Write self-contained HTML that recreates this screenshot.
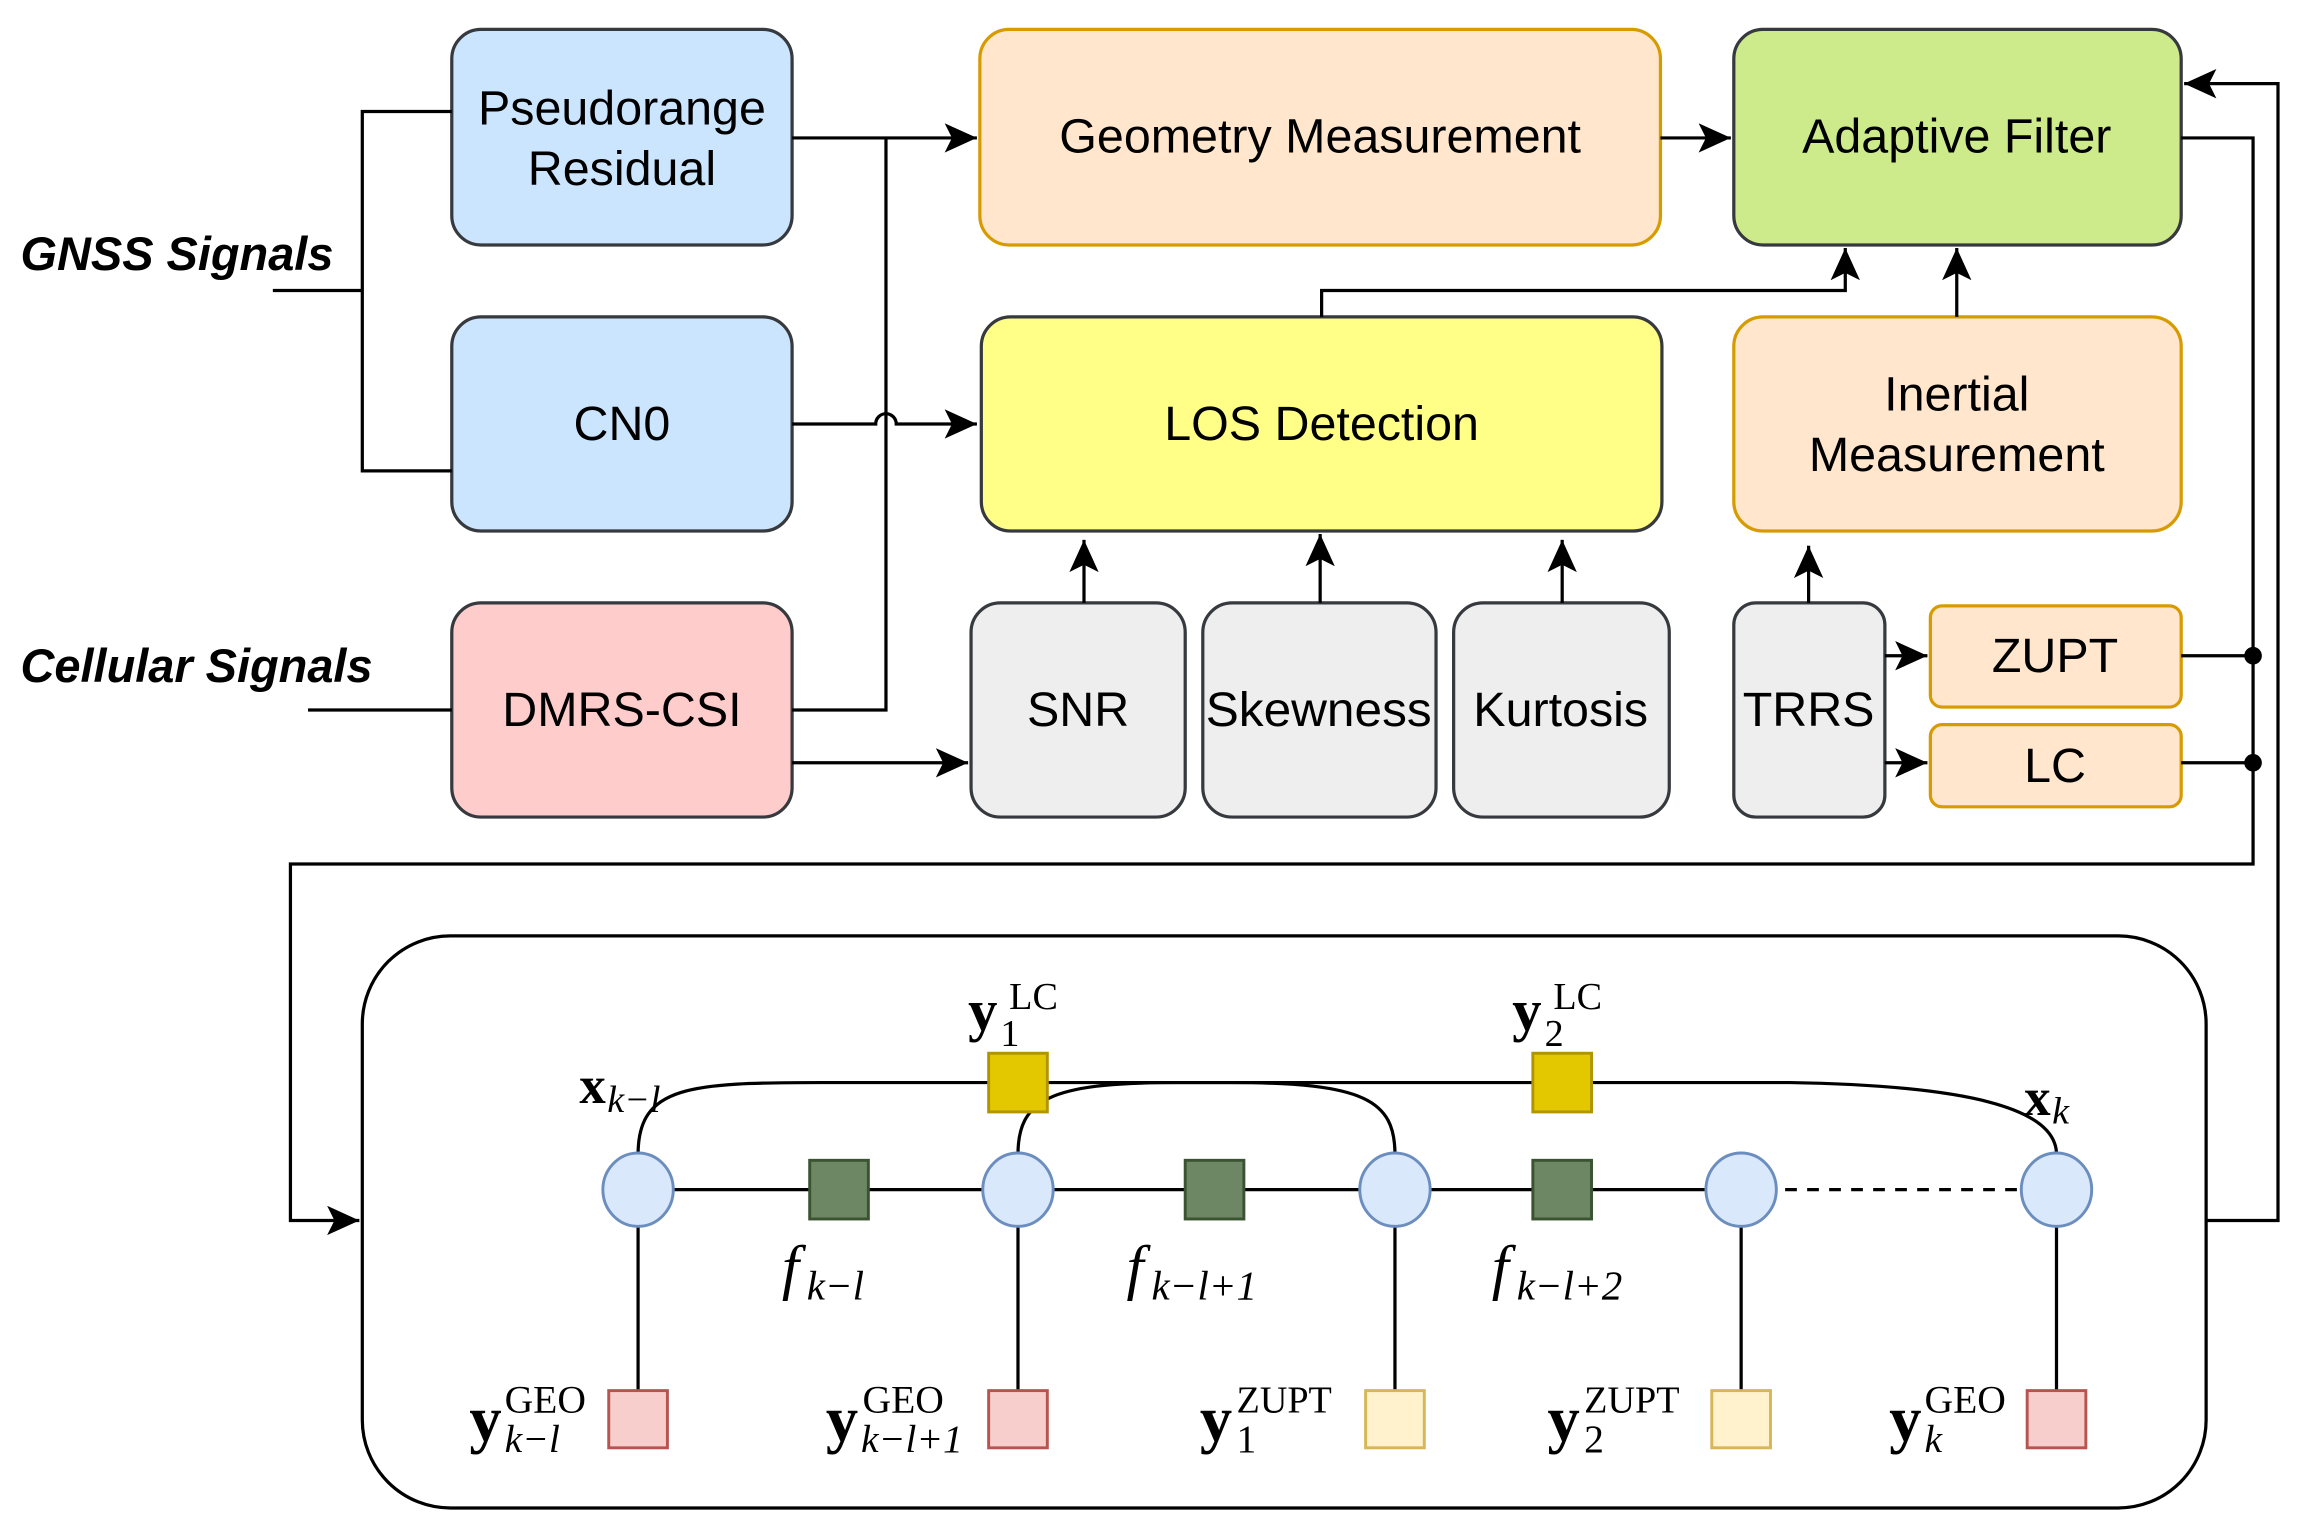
<!DOCTYPE html>
<html><head><meta charset="utf-8"><style>
html,body{margin:0;padding:0;background:#fff;}
svg{display:block;}
.t{font-family:"Liberation Sans",sans-serif;font-size:33px;fill:#000;text-anchor:middle;}
.m{font-family:"Liberation Serif",serif;fill:#000;}
</style></head><body>
<svg width="2300" height="1530" viewBox="0 0 1568 1043" xmlns="http://www.w3.org/2000/svg">
<defs>
<marker id="b" markerWidth="24" markerHeight="20" refX="22" refY="10" orient="auto" markerUnits="userSpaceOnUse"><path d="M0,0 L22,10 L0,20 L5,10 Z" fill="#000"/></marker></defs>
<g stroke-width="2.2" stroke="#36393d">
<rect x="308" y="20" width="232" height="147" rx="20" fill="#cce5ff"/>
<rect x="308" y="216" width="232" height="146" rx="20" fill="#cce5ff"/>
<rect x="308" y="411" width="232" height="146" rx="20" fill="#ffcccc"/>
<rect x="668" y="20" width="464" height="147" rx="20" fill="#ffe6cc" stroke="#d79b00"/>
<rect x="1182" y="20" width="305" height="147" rx="20" fill="#cdeb8b"/>
<rect x="669" y="216" width="464" height="146" rx="20" fill="#ffff88"/>
<rect x="1182" y="216" width="305" height="146" rx="20" fill="#ffe6cc" stroke="#d79b00"/>
<rect x="662" y="411" width="146" height="146" rx="20" fill="#eeeeee"/>
<rect x="820" y="411" width="159" height="146" rx="20" fill="#eeeeee"/>
<rect x="991" y="411" width="147" height="146" rx="20" fill="#eeeeee"/>
<rect x="1182" y="411" width="103" height="146" rx="15" fill="#eeeeee"/>
<rect x="1316" y="413" width="171" height="69" rx="8" fill="#ffe6cc" stroke="#d79b00"/>
<rect x="1316" y="494" width="171" height="56" rx="8" fill="#ffe6cc" stroke="#d79b00"/>
</g>
<text class="t" x="424" y="85">Pseudorange</text><text class="t" x="424" y="126">Residual</text>
<text class="t" x="424" y="300">CN0</text>
<text class="t" x="424" y="495">DMRS-CSI</text>
<text class="t" x="900" y="104">Geometry Measurement</text>
<text class="t" x="1334" y="104">Adaptive Filter</text>
<text class="t" x="901" y="300">LOS Detection</text>
<text class="t" x="1334" y="280">Inertial</text><text class="t" x="1334" y="321">Measurement</text>
<text class="t" x="735" y="495">SNR</text>
<text class="t" x="899" y="495" textLength="154" lengthAdjust="spacingAndGlyphs">Skewness</text>
<text class="t" x="1064" y="495">Kurtosis</text>
<text class="t" x="1233" y="495">TRRS</text>
<text class="t" x="1401" y="458">ZUPT</text>
<text class="t" x="1401" y="533">LC</text>
<text x="14" y="184" style="font:italic bold 32px 'Liberation Sans',sans-serif">GNSS Signals</text>
<text x="14" y="465" style="font:italic bold 32px 'Liberation Sans',sans-serif">Cellular Signals</text>
<g fill="none" stroke="#000" stroke-width="2.2">
<path d="M186,198 H247 M308,76 H247 V321 H308"/>
<path d="M210,484 H308"/>
<path d="M540,94 H666" marker-end="url(#b)"/>
<path d="M604,94 V484 H540"/>
<path d="M540,289 H597 A7,7 0 0 1 611,289 H666" marker-end="url(#b)"/>
<path d="M540,520 H660" marker-end="url(#b)"/>
<path d="M1132,94 H1180" marker-end="url(#b)"/>
<path d="M901,216 V198 H1258 V169" marker-end="url(#b)"/>
<path d="M1334,216 V169" marker-end="url(#b)"/>
<path d="M739,411 V368" marker-end="url(#b)"/>
<path d="M900,411 V364" marker-end="url(#b)"/>
<path d="M1065,411 V368" marker-end="url(#b)"/>
<path d="M1233,411 V372" marker-end="url(#b)"/>
<path d="M1285,447 H1314" marker-end="url(#b)"/>
<path d="M1285,520 H1314" marker-end="url(#b)"/>
<path d="M1487,447 H1536 M1487,520 H1536"/>
<path d="M1487,94 H1536 V589 H198 V832 H245" marker-end="url(#b)"/>
<path d="M1504,832 H1553 V57 H1489" marker-end="url(#b)"/>
<rect x="247" y="638" width="1257" height="390" rx="60"/>
<path d="M435,811 H1187"/>
<path d="M1187,811 H1402" stroke-dasharray="8,7"/>
<path d="M435,787 C435,740 470,738 560,738 L840,738 C930,738 951,750 951,787"/>
<path d="M694,787 C694,750 715,738 800,738 L1220,738 C1340,740 1402,755 1402,787"/>
<path d="M435,811 V948 M694,811 V948 M951,811 V948 M1187,811 V948 M1402,811 V948"/>
</g>
<circle cx="1536" cy="447" r="6" fill="#000"/><circle cx="1536" cy="520" r="6" fill="#000"/>
<g stroke-width="2" >
<rect x="674" y="718" width="40" height="40" fill="#e3c800" stroke="#b09500"/>
<rect x="1045" y="718" width="40" height="40" fill="#e3c800" stroke="#b09500"/>
<rect x="552" y="791" width="40" height="40" fill="#6d8764" stroke="#3a5431"/>
<rect x="808" y="791" width="40" height="40" fill="#6d8764" stroke="#3a5431"/>
<rect x="1045" y="791" width="40" height="40" fill="#6d8764" stroke="#3a5431"/>
<g fill="#dae8fc" stroke="#6c8ebf"><ellipse cx="435" cy="811" rx="24" ry="25"/><ellipse cx="694" cy="811" rx="24" ry="25"/><ellipse cx="951" cy="811" rx="24" ry="25"/><ellipse cx="1187" cy="811" rx="24" ry="25"/><ellipse cx="1402" cy="811" rx="24" ry="25"/></g>
<g fill="#f8cecc" stroke="#b85450"><rect x="415" y="948" width="40" height="39"/><rect x="674" y="948" width="40" height="39"/><rect x="1382" y="948" width="40" height="39"/></g>
<g fill="#fff2cc" stroke="#d6b656"><rect x="931" y="948" width="40" height="39"/><rect x="1167" y="948" width="40" height="39"/></g>
</g>
<g class="m">
<text x="395" y="752" font-size="36" font-weight="bold">x</text><text x="414" y="758" font-size="26" font-style="italic">k−l</text>
<text x="660" y="702" font-size="40" font-weight="bold">y</text><text x="682" y="713" font-size="26">1</text><text x="688" y="688" font-size="26">LC</text>
<text x="1031" y="702" font-size="40" font-weight="bold">y</text><text x="1053" y="713" font-size="26">2</text><text x="1059" y="688" font-size="26">LC</text>
<text x="1380" y="760" font-size="36" font-weight="bold">x</text><text x="1399" y="766" font-size="26" font-style="italic">k</text>
<text x="533" y="878" font-size="42" font-style="italic">f</text><text x="550" y="886" font-size="28" font-style="italic">k−l</text>
<text x="768" y="878" font-size="42" font-style="italic">f</text><text x="785" y="886" font-size="28" font-style="italic">k−l+1</text>
<text x="1017" y="878" font-size="42" font-style="italic">f</text><text x="1034" y="886" font-size="28" font-style="italic">k−l+2</text>
<text x="320" y="982" font-size="44" font-weight="bold">y</text><text x="344" y="963" font-size="27">GEO</text><text x="344" y="990" font-size="27" font-style="italic">k−l</text>
<text x="563" y="982" font-size="44" font-weight="bold">y</text><text x="588" y="963" font-size="27">GEO</text><text x="587" y="990" font-size="27" font-style="italic">k−l+1</text>
<text x="818" y="982" font-size="44" font-weight="bold">y</text><text x="843" y="963" font-size="26">ZUPT</text><text x="843" y="990" font-size="27">1</text>
<text x="1055" y="982" font-size="44" font-weight="bold">y</text><text x="1080" y="963" font-size="26">ZUPT</text><text x="1080" y="990" font-size="27">2</text>
<text x="1288" y="982" font-size="44" font-weight="bold">y</text><text x="1312" y="963" font-size="27">GEO</text><text x="1312" y="990" font-size="27" font-style="italic">k</text>
</g>
</svg>
</body></html>
